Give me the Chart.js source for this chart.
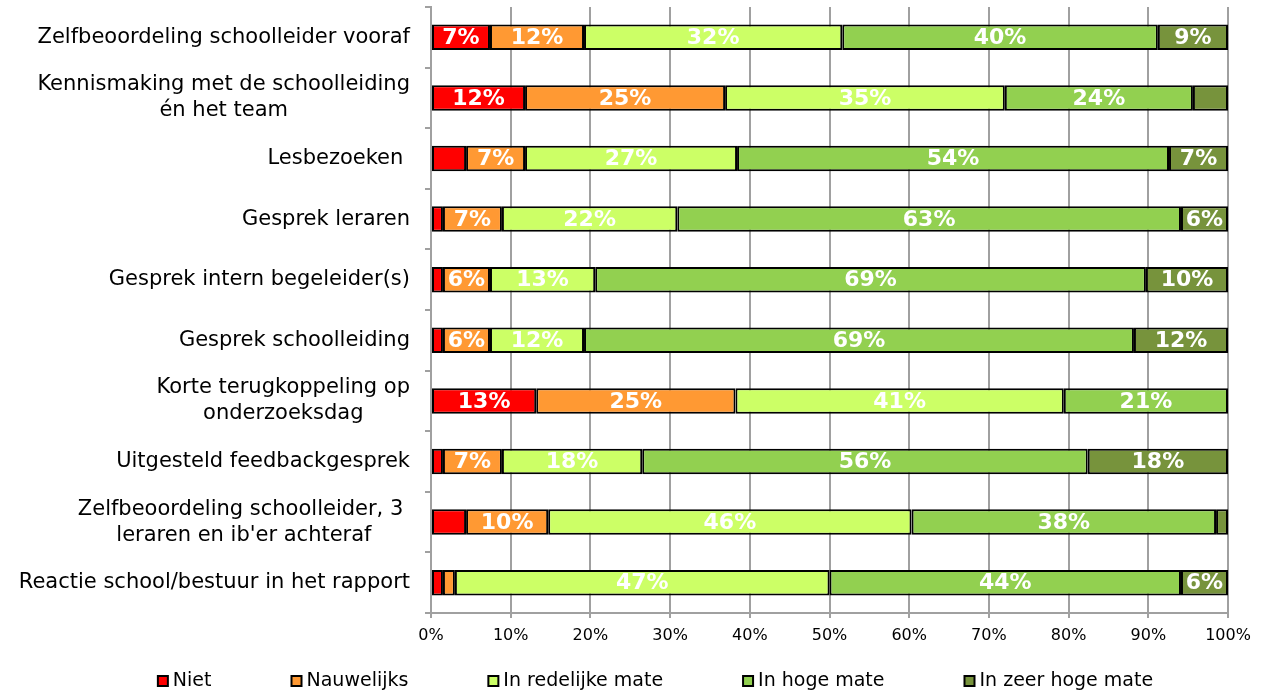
<!DOCTYPE html>
<html>
<head>
<meta charset="utf-8">
<script src="https://cdn.jsdelivr.net/npm/chart.js@4.4.1/dist/chart.umd.min.js"></script>
<style>
  html, body { margin: 0; background: #fff; }
  #wrap { width: 1269px; height: 692px; }
</style>
</head>
<body>
<div id="wrap"><canvas id="chart"></canvas></div>
<script>
const categories = [
  ["Zelfbeoordeling schoolleider vooraf"],
  ["Kennismaking met de schoolleiding", "én het team"],
  ["Lesbezoeken "],
  ["Gesprek leraren"],
  ["Gesprek intern begeleider(s)"],
  ["Gesprek schoolleiding"],
  ["Korte terugkoppeling op", "onderzoeksdag"],
  ["Uitgesteld feedbackgesprek"],
  ["Zelfbeoordeling schoolleider, 3 ", "leraren en ib'er achteraf"],
  ["Reactie school/bestuur in het rapport"]
];

const seriesNames = ["Niet", "Nauwelijks", "In redelijke mate", "In hoge mate", "In zeer hoge mate"];
const seriesColors = ["#ff0000", "#ff9933", "#ccff66", "#92d050", "#77933c"];

const niet       = [7.4, 11.8, 4.4, 1.5, 1.5, 1.5, 13.2, 1.5, 4.4, 1.5];
const nauwelijks = [11.8, 25.1, 7.4, 7.4, 5.9, 5.9, 25.0, 7.4, 10.3, 1.5];
const redelijk   = [32.4, 35.1, 26.6, 22.0, 13.2, 11.8, 41.2, 17.6, 45.6, 47.0];
const hoog       = [39.6, 23.6, 54.2, 63.2, 69.1, 69.0, 20.6, 55.9, 38.2, 44.1];
const zeerHoog   = [8.8, 4.4, 7.4, 5.9, 10.3, 11.8, null, 17.6, 1.5, 5.9];

const xTicks = [0, 10, 20, 30, 40, 50, 60, 70, 80, 90, 100];

const FONT = '"DejaVu Sans", Verdana, sans-serif';
const GRID = "#a0a0a0";

const seriesValues = [niet, nauwelijks, redelijk, hoog, zeerHoog];

// white percentage text inside the segments
const barLabels = {
  id: "barLabels",
  afterDatasetsDraw(chart) {
    const ctx = chart.ctx;
    ctx.save();
    ctx.font = "bold 22px " + FONT;
    ctx.fillStyle = "#ffffff";
    ctx.textAlign = "center";
    ctx.textBaseline = "middle";
    chart.data.datasets.forEach((ds, di) => {
      const meta = chart.getDatasetMeta(di);
      meta.data.forEach((bar, i) => {
        const v = ds.data[i];
        if (v == null || v < 5) return;
        const cx = (bar.x + bar.base) / 2;
        ctx.fillText(Math.round(v) + "%", cx, bar.y + 1);
      });
    });
    ctx.restore();
  }
};

// category names, right aligned, multi-line labels centered on each other
const categoryLabels = {
  id: "categoryLabels",
  afterDraw(chart) {
    const ctx = chart.ctx;
    const y = chart.scales.y;
    const right = 410;
    const lineH = 26;
    ctx.save();
    ctx.font = "21px " + FONT;
    ctx.fillStyle = "#000000";
    ctx.textAlign = "center";
    ctx.textBaseline = "middle";
    categories.forEach((lines, i) => {
      const cy = y.getPixelForValue(i);
      const maxW = Math.max(...lines.map(l => ctx.measureText(l).width));
      const cx = right - maxW / 2;
      const top = cy - (lines.length - 1) * lineH / 2;
      lines.forEach((l, k) => ctx.fillText(l, cx, top + k * lineH));
    });
    ctx.restore();
  }
};

// legend drawn below the axis
const bottomLegend = {
  id: "bottomLegend",
  afterDraw(chart) {
    const ctx = chart.ctx;
    const box = 12;
    const gap = 79;
    const centerX = 655;
    const cy = 681;
    ctx.save();
    ctx.font = "19px " + FONT;
    ctx.textBaseline = "middle";
    ctx.textAlign = "left";
    const widths = seriesNames.map(n => box + 4 + ctx.measureText(n).width);
    const total = widths.reduce((a, b) => a + b, 0) + gap * (seriesNames.length - 1);
    let x = centerX - total / 2;
    seriesNames.forEach((name, i) => {
      ctx.fillStyle = "#000000";
      ctx.fillRect(x, cy - box / 2, box, box);
      ctx.fillStyle = seriesColors[i];
      ctx.fillRect(x + 2, cy - box / 2 + 2, box - 4, box - 4);
      ctx.fillStyle = "#000000";
      ctx.fillText(name, x + box + 4, cy);
      x += widths[i] + gap;
    });
    ctx.restore();
  }
};

new Chart(document.getElementById("chart"), {
  type: "bar",
  data: {
    labels: categories,
    datasets: seriesNames.map((name, i) => ({
      label: name,
      data: seriesValues[i],
      backgroundColor: seriesColors[i],
      borderColor: "#000000",
      borderWidth: 2,
      borderSkipped: false,
      barPercentage: 0.42,
      categoryPercentage: 1.0
    }))
  },
  options: {
    indexAxis: "y",
    responsive: true,
    maintainAspectRatio: false,
    animation: false,
    layout: { padding: { top: 7, right: 41, left: 0, bottom: 39 } },
    plugins: {
      legend: { display: false },
      tooltip: { enabled: false }
    },
    scales: {
      x: {
        stacked: true,
        min: 0,
        max: 100,
        afterBuildTicks: scale => { scale.ticks = xTicks.map(v => ({ value: v })); },
        afterFit: scale => { scale.height = 40; },
        grid: { color: GRID, lineWidth: 2, tickLength: 5 },
        border: { color: GRID, width: 2 },
        ticks: {
          padding: 8,
          color: "#000000",
          font: { family: FONT, size: 16 },
          callback: v => v + "%"
        }
      },
      y: {
        stacked: true,
        afterFit: scale => { scale.width = 431; },
        grid: { drawOnChartArea: false, color: GRID, lineWidth: 2, tickLength: 6, offset: true },
        border: { color: GRID, width: 2 },
        ticks: { display: false }
      }
    }
  },
  plugins: [barLabels, categoryLabels, bottomLegend]
});
</script>
</body>
</html>
